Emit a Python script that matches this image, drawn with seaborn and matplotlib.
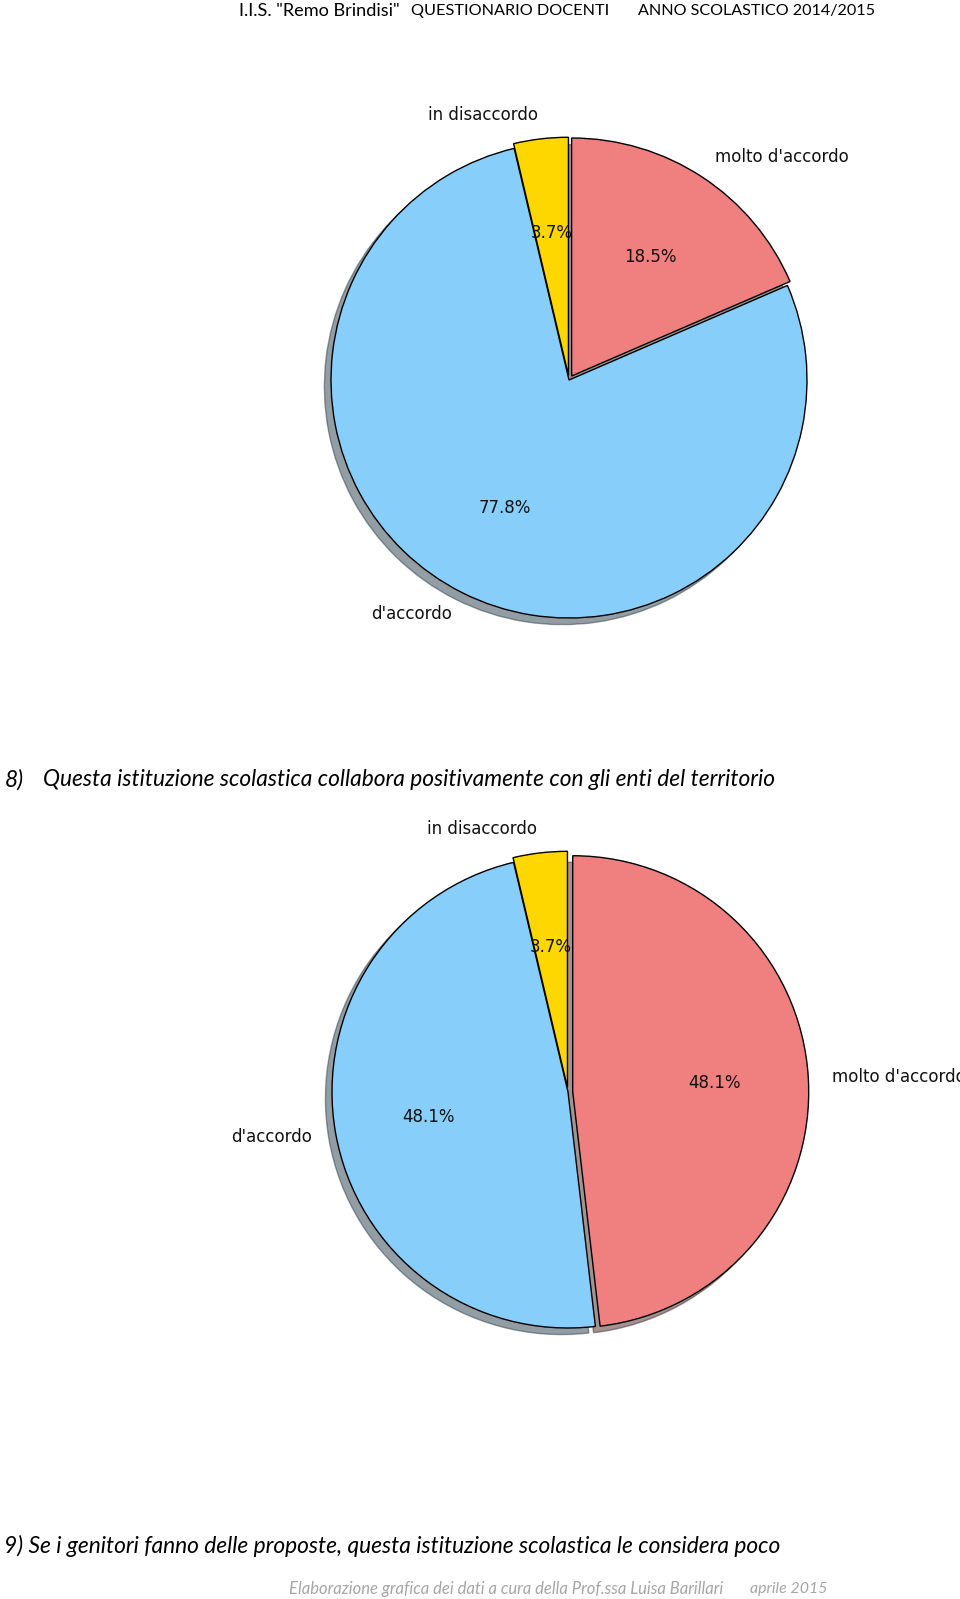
import matplotlib
matplotlib.use("Agg")
import matplotlib.pyplot as plt
import seaborn as sns

# ---- data ----
categories = ["molto d'accordo", "d'accordo", "in disaccordo"]
values_q7 = [18.5, 77.8, 3.7]
values_q8 = [48.1, 48.1, 3.7]
explode = [0.02, 0.0, 0.02]
slice_colors = ["lightcoral", "lightskyblue", "gold"]

header_parts = ['I.I.S. "Remo Brindisi"', "QUESTIONARIO DOCENTI", "ANNO SCOLASTICO 2014/2015"]
question8 = ("8)", "Questa istituzione scolastica collabora positivamente con gli enti del territorio")
question9 = "9) Se i genitori fanno delle proposte, questa istituzione scolastica le considera poco"
footer_parts = ["Elaborazione grafica dei dati a cura della Prof.ssa Luisa Barillari", "aprile 2015"]

sns.set_theme(style="white")
plt.rcParams["font.family"] = ["DejaVu Sans"]

W, H = 960, 1599
fig = plt.figure(figsize=(W / 100, H / 100), dpi=100)
fig.patch.set_facecolor("white")
renderer = fig.canvas.get_renderer()

palette = sns.color_palette(slice_colors)


def pie_axes(cx, cy, r):
    half = 1.25 * r
    ax = fig.add_axes([(cx - half) / W, (H - cy - half) / H, 2 * half / W, 2 * half / H])
    return ax


def draw_pie(ax, values, fs):
    ax.pie(values, labels=categories, colors=palette, explode=explode,
           autopct="%1.1f%%", startangle=90, counterclock=False, shadow=True,
           wedgeprops=dict(edgecolor="black", linewidth=1.0),
           textprops=dict(fontsize=fs, color="#111111"))
    ax.set_xlim(-1.25, 1.25)
    ax.set_ylim(-1.25, 1.25)
    ax.axis("off")


ax1 = pie_axes(569, 380, 238)
draw_pie(ax1, values_q7, 12)
ax2 = pie_axes(568, 1092, 236)
draw_pie(ax2, values_q8, 12)


def fit_text(x, y, s, width, **kw):
    t = fig.text(x / W, 1 - y / H, s, va="center", ha="left", **kw)
    bb = t.get_window_extent(renderer)
    t.set_fontsize(t.get_fontsize() * width / bb.width)
    return t


hdr = dict(family=["Lato", "DejaVu Sans"], color="black", fontsize=12)
fit_text(239, 11, header_parts[0], 160, **hdr)
fit_text(411, 11, header_parts[1], 196, **hdr)
fit_text(638, 11, header_parts[2], 236, **hdr)

q = dict(family=["Lato", "DejaVu Sans"], style="italic", color="black", fontsize=15)
t8 = fig.text(5 / W, 1 - 780 / H, question8[0], va="center", ha="left", **q)
fit_text(43, 780, question8[1], 732, **q)
t8.set_fontsize(fig.texts[-1].get_fontsize())
fit_text(4, 1546, question9, 776, **q)

f = dict(family=["Lato", "DejaVu Sans"], style="italic", color="#a6a6a6", fontsize=12)
fit_text(289, 1589, footer_parts[0], 433, **f)
fit_text(750, 1589, footer_parts[1], 77, **f)

fig.savefig("out.png", dpi=100, facecolor="white")
